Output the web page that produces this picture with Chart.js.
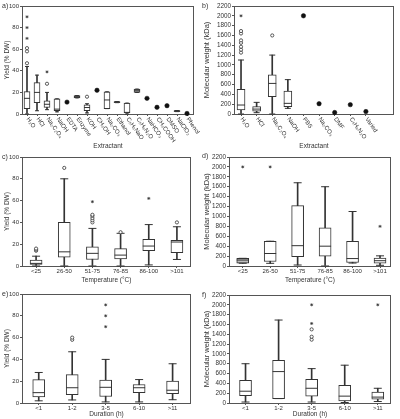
<!DOCTYPE html>
<html><head><meta charset="utf-8">
<script src="https://cdn.jsdelivr.net/npm/chart.js@4.4.1/dist/chart.umd.min.js"></script>
<style>
html,body{margin:0;padding:0;background:#fff;}
#wrap{position:relative;width:400px;height:419px;overflow:hidden;background:#fff;}
canvas{position:absolute;}
.lbl{position:absolute;font-family:'Liberation Sans','DejaVu Sans',sans-serif;font-size:7px;color:#333;line-height:8px;}
</style></head><body>
<div id="wrap">
<canvas id="ca" width="200" height="151" style="left:0;top:0"></canvas>
<canvas id="cb" width="200" height="151" style="left:200px;top:0"></canvas>
<canvas id="cc" width="200" height="135" style="left:0;top:150px"></canvas>
<canvas id="cd" width="200" height="135" style="left:200px;top:150px"></canvas>
<canvas id="ce" width="200" height="133" style="left:0;top:286px"></canvas>
<canvas id="cf" width="200" height="133" style="left:200px;top:286px"></canvas>
<div class="lbl" style="left:2px;top:2px">a)</div>
<div class="lbl" style="left:202px;top:2px">b)</div>
<div class="lbl" style="left:2px;top:153px">c)</div>
<div class="lbl" style="left:202px;top:152px">d)</div>
<div class="lbl" style="left:2px;top:290px">e)</div>
<div class="lbl" style="left:202px;top:291px">f)</div>
</div>
<script>
// ---------- tick labels ----------
const yieldTicks = [0, 20, 40, 60, 80, 100];
const mwTicks = [0, 200, 400, 600, 800, 1000, 1200, 1400, 1600, 1800, 2000, 2200];

// ---------- a) Yield by extractant ----------
const aCats = ['H₂O','HCl','Na₂C₂O₄','NaOH','EDTA','Enzyme','KOH','CH₃OH','Na₂CO₃','Ethanol','C₅H₅NaO','C₅H₉N₂O','NaHCO₃','CH₃COOH','DMSO','NaClO₂','Phenol'];
const aMin = [0, 3, 4, 2, null, 15, 1, null, 5, 10.5, 0, 20, null, null, null, 2.2, null];
const aQ1  = [5, 10.5, 6, 3, null, 15, 3, null, 5, 10.5, 1, 20, null, null, null, 2.2, null];
const aMed = [14.5, 20, 9, 4.5, null, 16, 6, null, 13, 11, 1.5, 21.5, null, null, null, 2.8, null];
const aQ3  = [20.7, 29, 12.3, 14, null, 17, 8.5, null, 20.5, 11.5, 10, 23, null, null, null, 3.2, null];
const aMax = [44, 36, 20, 14, null, 17, 9.5, null, 20.5, 11.5, 10, 23, null, null, null, 3.2, null];
const aDots = [null, null, null, null, 11, null, null, 22, null, null, null, null, 14.5, 6.2, 7.7, null, 0.5];
const aOut = [[47, 58, 61], [], [28], [], [], [], [16], [], [], [], [], [], [], [], [], [], []];
const aExt = [[70, 80, 90], [], [39], [], [], [], [], [], [], [], [], [], [], [], [], [], []];

// ---------- b) Molecular weight by extractant ----------
const bCats = ['H₂O','HCl','Na₂C₂O₄','NaOH','PBS','Na₂CO₃','DMF','C₅H₉N₂O','Varied'];
const bMin = [0, 27, 0, 115, null, null, null, null, null];
const bQ1  = [81, 60, 352, 150, null, null, null, null, null];
const bMed = [183, 100, 623, 217, null, null, null, null, null];
const bQ3  = [500, 150, 800, 467, null, null, null, null, null];
const bMax = [1100, 237, 1200, 700, null, null, null, null, null];
const bDots = [null, null, null, null, 2000, 210, 30, 190, 50];
const bOut = [[1250, 1310, 1370, 1450, 1500, 1640, 1690], [], [1600], [], [], [], [], [], []];
const bExt = [[2000], [], [], [], [], [], [], [], []];

// ---------- c) Yield by temperature ----------
const tempCats = ['<25','26-50','51-75','76-85','86-100','>101'];
const cMin = [0, 0, 0, 0, 1, 6];
const cQ1  = [1.5, 8, 6, 6.4, 14, 12.2];
const cMed = [2.4, 13, 11.6, 10, 18.3, 22];
const cQ3  = [5.5, 40, 17.7, 16, 24.4, 23.5];
const cMax = [9, 80, 34.5, 30, 38, 36];
const cDots = [null, null, null, null, null, null];
const cOut = [[14, 15, 16], [90], [40, 42, 44, 46, 47], [31], [], [40]];
const cExt = [[], [], [59], [], [62], []];

// ---------- d) Molecular weight by temperature ----------
const dMin = [55, 54, 20, 0, 60, 14];
const dQ1  = [55, 90, 190, 200, 70, 55];
const dMed = [120, 252, 410, 400, 150, 107];
const dQ3  = [155, 500, 1220, 770, 500, 160];
const dMax = [155, 500, 1680, 1600, 1100, 205];
const dDots = [null, null, null, null, null, null];
const dOut = [[], [], [], [], [], []];
const dExt = [[2000], [2000], [], [], [], [800]];

// ---------- e) Yield by duration ----------
const durCats = ['<1','1-2','3-5','6-10','>11'];
const eMin = [2, 2.8, 1, 1, 3];
const eQ1  = [5.5, 7.7, 6, 9.5, 8.6];
const eMed = [9.5, 14, 14.4, 14, 11.7];
const eQ3  = [21.5, 26, 21, 17, 20];
const eMax = [28, 47, 40, 21.5, 36];
const eDots = [null, null, null, null, null];
const eOut = [[], [58, 60], [], [], []];
const eExt = [[], [], [70, 80, 90], [], []];

// ---------- f) Molecular weight by duration ----------
const fMin = [20, 90, 20, 10, 30];
const fQ1  = [150, 90, 140, 40, 80];
const fMed = [240, 640, 300, 140, 120];
const fQ3  = [460, 870, 480, 360, 220];
const fMax = [800, 1690, 700, 770, 300];
const fDots = [null, null, null, null, null];
const fOut = [[], [], [1290, 1350, 1500], [], []];
const fExt = [[], [], [1620, 2000], [], [2000]];

// ---------- rendering ----------
const FONT = "'Liberation Sans','DejaVu Sans',sans-serif";
Chart.defaults.font.family = FONT;
Chart.defaults.color = '#333';
const INK = '#333';

const framePlugin = {
  id: 'frame',
  beforeDatasetsDraw(chart) {
    const {ctx, chartArea: a} = chart;
    ctx.save();
    ctx.strokeStyle = '#555';
    ctx.lineWidth = 1;
    ctx.strokeRect(Math.round(a.left) + 0.5, Math.round(a.top) + 0.5,
                   Math.round(a.right - a.left) - 1, Math.round(a.bottom - a.top));
    ctx.restore();
  }
};

const rotatedLabels = {
  id: 'rotLabels',
  afterDraw(chart, args, opts) {
    if (!opts || !opts.labels) return;
    const {ctx, chartArea: a} = chart;
    const xs = chart.scales.x;
    ctx.save();
    ctx.fillStyle = INK;
    ctx.font = '6px ' + FONT;
    ctx.textAlign = 'left';
    ctx.textBaseline = 'middle';
    opts.labels.forEach((lab, i) => {
      const px = xs.getPixelForValue(i);
      ctx.save();
      ctx.translate(px + 0.5, a.bottom + 4);
      ctx.rotate(55 * Math.PI / 180);
      ctx.fillText(lab, 0, 0);
      ctx.restore();
    });
    ctx.restore();
  }
};

function buildPanel(p) {
  const idx = p.cats.map((c, i) => i);
  const hasBox = i => p.min[i] !== null && p.min[i] !== undefined;
  const whiskers = idx.filter(hasBox).map(i => ({x: i, y: [p.min[i], p.max[i]]}));
  const boxes = idx.filter(hasBox).map(i => ({x: i, y: [p.q1[i], p.q3[i]]}));
  const boxFill = idx.filter(hasBox).map(i => (p.shaded.includes(i) ? '#bdbdbd' : '#ffffff'));
  const medians = idx.filter(hasBox).map(i => ({x: i, y: p.med[i]}));
  const caps = [];
  idx.filter(hasBox).forEach(i => { caps.push({x: i, y: p.min[i]}); caps.push({x: i, y: p.max[i]}); });
  const dots = idx.filter(i => p.dots[i] !== null).map(i => ({x: i, y: p.dots[i]}));
  const outs = [], exts = [];
  idx.forEach(i => {
    p.outs[i].forEach(v => outs.push({x: i, y: v}));
    p.exts[i].forEach(v => exts.push({x: i, y: v}));
  });

  const datasets = [
    {type: 'scatter', data: exts, pointStyle: 'star', pointRadius: 1.5, borderColor: INK, pointBorderWidth: 0.7, backgroundColor: INK, order: 1, clip: false},
    {type: 'scatter', data: outs, pointStyle: 'circle', pointRadius: 1.6, borderColor: INK, pointBorderWidth: 0.8, backgroundColor: '#fff', order: 1, clip: false},
    {type: 'scatter', data: dots, pointStyle: 'circle', pointRadius: 2.2, borderColor: '#111', pointBorderWidth: 0.5, backgroundColor: '#111', order: 2, clip: false},
    {type: 'scatter', data: medians, pointStyle: 'line', pointRadius: p.boxW / 2, borderColor: INK, pointBorderWidth: 1, order: 3, clip: false},
    {type: 'scatter', data: caps, pointStyle: 'line', pointRadius: p.capR, borderColor: INK, pointBorderWidth: 1, order: 3, clip: false},
    {type: 'bar', data: boxes, barThickness: p.boxW, grouped: false, backgroundColor: boxFill, borderColor: INK, borderWidth: 1, borderSkipped: false, order: 4, clip: false},
    {type: 'bar', data: whiskers, barThickness: 1, grouped: false, backgroundColor: INK, borderWidth: 0, order: 5, clip: false}
  ];

  new Chart(document.getElementById(p.id), {
    type: 'bar',
    data: {datasets},
    plugins: [framePlugin, rotatedLabels],
    options: {
      responsive: false,
      animation: false,
      events: [],
      layout: {padding: p.pad},
      plugins: {legend: {display: false}, tooltip: {enabled: false}, rotLabels: {labels: p.rotated ? p.cats : null}},
      scales: {
        x: {
          type: 'linear', offset: false, min: p.xr[0], max: p.xr[1],
          afterBuildTicks: s => { s.ticks = idx.map(i => ({value: i})); },
          afterFit: s => { s.height = p.xH; },
          grid: {display: true, drawOnChartArea: false, drawTicks: true, tickLength: 2, color: '#555', offset: false},
          border: {display: false},
          ticks: {display: !p.rotated, autoSkip: false, maxRotation: 0, minRotation: 0, padding: 0,
                  font: {size: 6}, color: INK, callback: v => (p.cats[v] !== undefined ? p.cats[v] : '')},
          title: {display: true, text: p.xTitle, font: {size: 6.5}, color: INK, padding: {top: 0, bottom: 0}}
        },
        y: {
          type: 'linear', min: p.ticks[0], max: p.ticks[p.ticks.length - 1],
          afterBuildTicks: s => { s.ticks = p.ticks.map(v => ({value: v})); },
          afterFit: s => { s.width = p.yW; },
          grid: {display: true, drawOnChartArea: false, drawTicks: true, tickLength: 2, color: '#555'},
          border: {display: false},
          ticks: {autoSkip: false, padding: 1, font: {size: p.tickFont}, color: INK, callback: v => String(v)},
          title: {display: true, text: p.yTitle, font: {size: p.yTitleFont}, color: INK, padding: {top: p.yTitlePad, bottom: 0}}
        }
      }
    }
  });
}

const panels = [
  {id: 'ca', cats: aCats, min: aMin, q1: aQ1, med: aMed, q3: aQ3, max: aMax, dots: aDots, outs: aOut, exts: aExt,
   ticks: yieldTicks, yTitle: 'Yield (% DW)', xTitle: 'Extractant', xr: [-0.5, 16.7],
   pad: {left: 0, top: 6, right: 6, bottom: 1}, yW: 22, xH: 36, boxW: 6, capR: 2, rotated: true, shaded: [5, 11],
   tickFont: 6, yTitleFont: 6.5, yTitlePad: 3.5},
  {id: 'cb', cats: bCats, min: bMin, q1: bQ1, med: bMed, q3: bQ3, max: bMax, dots: bDots, outs: bOut, exts: bExt,
   ticks: mwTicks, yTitle: 'Molecular weight (kDa)', xTitle: 'Extractant', xr: [-0.45, 9.8],
   pad: {left: 0, top: 6, right: 6, bottom: 1}, yW: 34, xH: 36, boxW: 8, capR: 3, rotated: true, shaded: [],
   tickFont: 6.3, yTitleFont: 7.5, yTitlePad: 2.5},
  {id: 'cc', cats: tempCats, min: cMin, q1: cQ1, med: cMed, q3: cQ3, max: cMax, dots: cDots, outs: cOut, exts: cExt,
   ticks: yieldTicks, yTitle: 'Yield (% DW)', xTitle: 'Temperature (°C)', xr: [-0.5, 5.5],
   pad: {left: 0, top: 7, right: 9, bottom: 1}, yW: 22, xH: 18, boxW: 12, capR: 4, rotated: false, shaded: [],
   tickFont: 6, yTitleFont: 6.5, yTitlePad: 3.5},
  {id: 'cd', cats: tempCats, min: dMin, q1: dQ1, med: dMed, q3: dQ3, max: dMax, dots: dDots, outs: dOut, exts: dExt,
   ticks: mwTicks, yTitle: 'Molecular weight (kDa)', xTitle: 'Temperature (°C)', xr: [-0.5, 5.4],
   pad: {left: 0, top: 6, right: 9, bottom: 1}, yW: 29, xH: 18, boxW: 12, capR: 4, rotated: false, shaded: [0],
   tickFont: 6.3, yTitleFont: 7.5, yTitlePad: 2.5},
  {id: 'ce', cats: durCats, min: eMin, q1: eQ1, med: eMed, q3: eQ3, max: eMax, dots: eDots, outs: eOut, exts: eExt,
   ticks: yieldTicks, yTitle: 'Yield (% DW)', xTitle: 'Duration (h)', xr: [-0.5, 4.55],
   pad: {left: 0, top: 8, right: 9, bottom: 1}, yW: 22, xH: 15, boxW: 12, capR: 4, rotated: false, shaded: [],
   tickFont: 6, yTitleFont: 6.5, yTitlePad: 3.5},
  {id: 'cf', cats: durCats, min: fMin, q1: fQ1, med: fMed, q3: fQ3, max: fMax, dots: fDots, outs: fOut, exts: fExt,
   ticks: mwTicks, yTitle: 'Molecular weight (kDa)', xTitle: 'Duration (h)', xr: [-0.5, 4.4],
   pad: {left: 0, top: 9, right: 9, bottom: 1}, yW: 29, xH: 15, boxW: 12, capR: 4, rotated: false, shaded: [],
   tickFont: 6.3, yTitleFont: 7.5, yTitlePad: 2.5}
];
panels.forEach(buildPanel);
</script>
</body></html>
